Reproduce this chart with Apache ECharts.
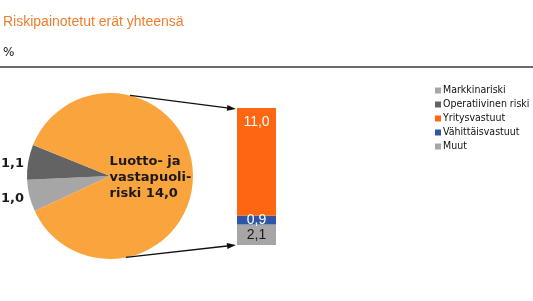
<!DOCTYPE html>
<html><head><meta charset="utf-8">
<script src="https://cdn.jsdelivr.net/npm/echarts@6/dist/echarts.min.js"></script>
<style>html,body{margin:0;padding:0;background:#fff}#c{width:533px;height:301px}</style>
</head><body><div id="c"></div>
<script>
// Data
const titleText = 'Riskipainotetut erät yhteensä';
const unitText = '%';
const pieNames = ['Markkinariski', 'Operatiivinen riski', 'Luotto- ja vastapuoliriski'];
const pieLabels = ['1,0', '1,1', 'Luotto- ja\nvastapuoli-\nriski 14,0'];
const pieValues = [1.0, 1.1, 14.0];
const barCategories = ['Luotto- ja vastapuoliriski'];
const barNames = ['Muut', 'Vähittäisvastuut', 'Yritysvastuut'];
const barValues = [[2.1], [0.9], [11.0]];
const legendOrder = ['Markkinariski', 'Operatiivinen riski', 'Yritysvastuut', 'Vähittäisvastuut', 'Muut'];

const pieColors = ['#a6a6a6', '#636363', '#f9a43c'];
const barColors = ['#a6a6a6', '#2f56a6', '#ff6611'];
const barLabelColors = ['#1a1a1a', '#ffffff', '#ffffff'];
const barLabelPos = ['inside', 'inside', 'insideTop'];

const pieCenter = [110, 176];
const pieRadius = 83;
const gridBox = { left: 237, top: 108, width: 39, bottom: 56 };

const fmt = v => v.toFixed(1).replace('.', ',');

const chart = echarts.init(document.getElementById('c'), null, { renderer: 'canvas' });

const option = {
  animation: false,
  textStyle: { fontFamily: 'DejaVu Sans' },
  title: [
    { text: titleText, left: -2, top: 10, textStyle: { color: '#f07d2b', fontSize: 14, fontWeight: 'normal', fontFamily: 'Liberation Sans' } },
    { text: unitText, left: -2, top: 42, textStyle: { color: '#111', fontSize: 12, fontWeight: 'normal', fontFamily: 'DejaVu Sans' } }
  ],
  legend: {
    data: legendOrder,
    orient: 'vertical',
    left: 430, top: 80,
    itemWidth: 6, itemHeight: 6, itemGap: 3,
    icon: 'rect',
    textStyle: { fontSize: 10.5, color: '#111', fontFamily: 'DejaVu Sans Condensed', padding: [0, 0, 0, -3] },
    selectedMode: false
  },
  grid: { left: gridBox.left, top: gridBox.top, width: gridBox.width, bottom: gridBox.bottom },
  xAxis: { type: 'category', data: barCategories, show: false },
  yAxis: { type: 'value', min: 0, max: 14, show: false },
  series: [
    {
      type: 'pie',
      center: pieCenter,
      radius: pieRadius,
      startAngle: 205,
      clockwise: true,
      silent: true,
      avoidLabelOverlap: false,
      data: pieNames.map((n, i) => ({
        name: n, value: pieValues[i],
        itemStyle: { color: pieColors[i] },
        label: i < 2 ? { position: 'outside' } : { position: 'inside' }
      })),
      label: {
        formatter: p => pieLabels[p.dataIndex],
        fontSize: 13, fontWeight: 'bold', color: '#1a1a1a', lineHeight: 16,
        fontFamily: 'DejaVu Sans', overflow: 'none'
      },
      labelLine: { show: false, length: 4, length2: 0 },
      labelLayout: p => p.dataIndex === 2
        ? { align: 'left', x: p.labelRect.x - 4, y: p.labelRect.y + p.labelRect.height / 2 + 3, verticalAlign: 'middle' }
        : { align: 'right', x: pieCenter[0] - pieRadius - 3, y: p.labelRect.y + p.labelRect.height / 2 + 2, verticalAlign: 'middle' }
    },
    ...barNames.map((n, i) => ({
      type: 'bar',
      name: n,
      stack: 'total',
      barWidth: '100%',
      silent: true,
      data: barValues[i],
      itemStyle: { color: barColors[i] },
      label: {
        show: true, position: barLabelPos[i], distance: 7,
        formatter: p => fmt(p.value),
        color: barLabelColors[i], fontSize: 14, fontFamily: 'Liberation Sans'
      }
    }))
  ]
};
chart.setOption(option);

// Annotations: rule and connector arrows derived from pie geometry and bar scale
const total = barValues.reduce((s, a) => s + a[0], 0);
const barTop = chart.convertToPixel({ gridIndex: 0 }, [0, total]);
const barBot = chart.convertToPixel({ gridIndex: 0 }, [0, 0]);
const barLeft = gridBox.left;
function onPie(deg) {
  const a = deg * Math.PI / 180;
  return [pieCenter[0] + Math.cos(a) * pieRadius, pieCenter[1] - Math.sin(a) * pieRadius];
}
function arrow(from, to) {
  const dx = to[0] - from[0], dy = to[1] - from[1];
  const L = Math.hypot(dx, dy), ux = dx / L, uy = dy / L;
  const hl = 9, hw = 3;
  const bx = to[0] - ux * hl, by = to[1] - uy * hl;
  return [
    { type: 'line', shape: { x1: from[0], y1: from[1], x2: bx, y2: by }, style: { stroke: '#111', lineWidth: 1.3 }, silent: true, z: 10 },
    { type: 'polygon', shape: { points: [[to[0], to[1]], [bx - uy * hw, by + ux * hw], [bx + uy * hw, by - ux * hw]] }, style: { fill: '#111' }, silent: true, z: 10 }
  ];
}
const graphics = [
  { type: 'line', shape: { x1: 0, y1: 67, x2: 533, y2: 67 }, style: { stroke: '#3a3a3a', lineWidth: 1.6 }, silent: true },
  ...arrow(onPie(76), [barLeft - 1, barTop[1] + 1]),
  ...arrow(onPie(-79), [barLeft - 1, barBot[1]])
];
chart.setOption({ graphic: graphics });
</script>
</body></html>
